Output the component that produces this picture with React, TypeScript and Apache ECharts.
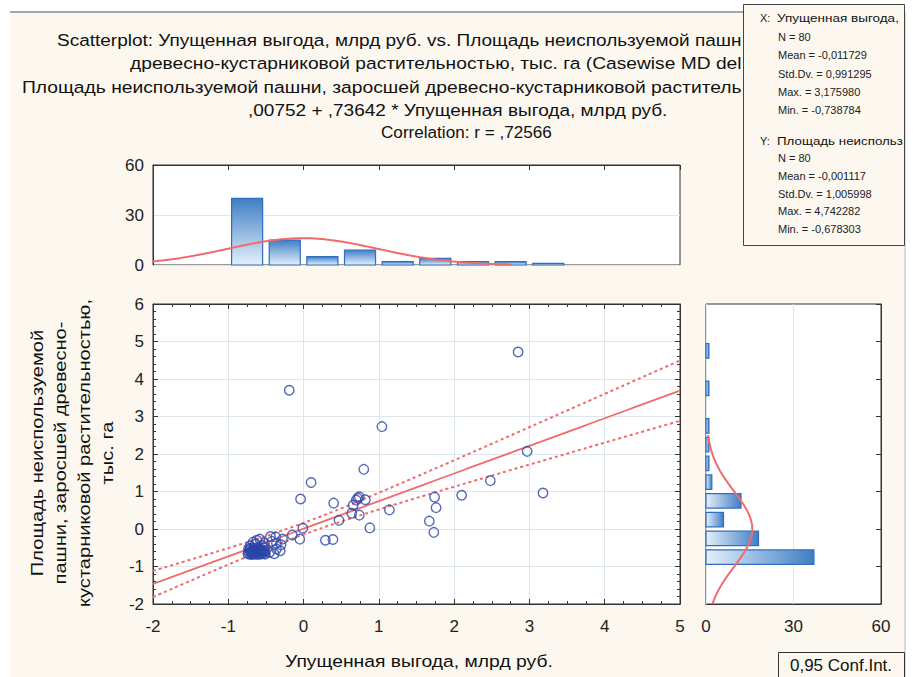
import React, { useEffect, useRef } from "react";
import * as echarts from "echarts";

// ---- Data ----
const xValues = [
  // dense cluster
  -0.74, -0.73, -0.72, -0.71, -0.70, -0.69, -0.68, -0.67, -0.66, -0.66, -0.65, -0.64, -0.63, -0.62, -0.61, -0.60, -0.60,
  -0.59, -0.58, -0.57, -0.56, -0.55, -0.54, -0.53, -0.52, -0.52, -0.51, -0.51, -0.73, -0.70, -0.62, -0.57, -0.69,
  -0.39, -0.31, -0.45, -0.36,
  -0.71, -0.64, -0.58, -0.67, -0.55, -0.62, -0.52,
  -0.44, -0.37, -0.30, -0.28, -0.36, -0.42,
  // remaining points
  -0.19, 1.04, 0.80, 0.10, -0.04, 0.40, 0.74, 0.70, 0.82, 0.66, 0.64, 0.74, 0.47, 0.88, 1.14, 1.74, 1.76, 1.67, 1.73,
  -0.01, -0.15, -0.05, 0.29, 0.39, 2.85, 2.97, 2.48, 2.10, 3.18, 0.72,
];
const yValues = [
  -0.66, -0.60, -0.67, -0.55, -0.63, -0.68, -0.58, -0.66, -0.52, -0.61, -0.67, -0.56, -0.64, -0.60, -0.68, -0.53, -0.65,
  -0.58, -0.62, -0.67, -0.55, -0.63, -0.59, -0.66, -0.51, -0.61, -0.57, -0.67, -0.52, -0.51, -0.51, -0.60, -0.62,
  -0.66, -0.58, -0.62, -0.53,
  -0.45, -0.40, -0.27, -0.35, -0.44, -0.30, -0.38,
  -0.20, -0.21, -0.42, -0.27, -0.38, -0.33,
  3.70, 2.73, 1.59, 1.24, 0.80, 0.69, 0.86, 0.77, 0.78, 0.64, 0.42, 0.37, 0.23, 0.03, 0.51, 0.85, 0.57, 0.21, -0.09,
  0.02, -0.16, -0.27, -0.30, -0.28, 4.72, 2.07, 1.29, 0.90, 0.96, 0.82,
];

const binWidth = 0.5;
const xBinStarts = [-1, -0.5, 0, 0.5, 1, 1.5, 2, 2.5, 3];
const xBinCounts = [40, 15, 5, 9, 2, 4, 2, 2, 1];
const yBinStarts = [-1, -0.5, 0, 0.5, 1, 1.5, 2, 2.5, 3.5, 4.5];
const yBinCounts = [37, 18, 6, 12, 2, 1, 1, 1, 1, 1];

// Fitted statistics printed on the chart
const intercept = 0.00752;
const slope = 0.73642;
const nObs = 80;
const xMean = -0.011729;
const xStd = 0.991295;
const yMean = -0.001117;
const yStd = 1.005998;
const rCorr = 0.72566;
const tCrit = 1.9908;

// visible parts of the texts (the statistics box hides the rest)
const titleLines = [
  "Scatterplot: Упущенная выгода, млрд руб. vs. Площадь неиспользуемой пашн",
  "древесно-кустарниковой растительностью, тыс. га (Casewise MD del",
  "Площадь неиспользуемой пашни, заросшей древесно-кустарниковой раститель",
  ",00752 + ,73642 * Упущенная выгода, млрд руб.",
  "Correlation: r = ,72566",
];
const statsXName = "Упущенная выгода,";
const statsYName = "Площадь неиспольз";
const statsX = ["N = 80", "Mean = -0,011729", "Std.Dv. = 0,991295", "Max. = 3,175980", "Min. = -0,738784"];
const statsY = ["N = 80", "Mean = -0,001117", "Std.Dv. = 1,005998", "Max. = 4,742282", "Min. = -0,678303"];
const xName = "Упущенная выгода, млрд руб.";
const yNameLines = ["Площадь неиспользуемой", "пашни, заросшей древесно-", "кустарниковой растительностью,", "тыс. га"];
const confLabel = "0,95 Conf.Int.";

// ---- styles / layout ----
const FONT = "'Liberation Sans', Arial, sans-serif";
const CREAM = "#fcf8ef";
const RED = "#f26b6b";
const BLUE = "#2c45a8";
const GRIDC = "#dce6ef";
const AXC = "#333";

const pdf = (v: number, m: number, s: number) =>
  Math.exp(-0.5 * ((v - m) / s) ** 2) / (s * Math.sqrt(2 * Math.PI));

let ctx: CanvasRenderingContext2D | null = null;
function measure(text: string, font: string) {
  if (!ctx) ctx = document.createElement("canvas").getContext("2d");
  if (!ctx) return text.length * 8;
  ctx.font = font;
  return ctx.measureText(text).width;
}

// text stretched horizontally so that it spans x0..x1 like in the reference
function fitText(text: string, x0: number, x1: number, y: number, size: number, z = 10) {
  const font = `${size}px ${FONT}`;
  const w = measure(text, font);
  return {
    type: "text",
    x: x0,
    y,
    z,
    scaleX: (x1 - x0) / w,
    style: { text, font, fill: "#111", textVerticalAlign: "middle" },
  };
}

function buildOption() {
  const pts = xValues.map((x, i) => [x, yValues[i]]);
  const xHist = xBinStarts.map((s, i) => [s, s + binWidth, xBinCounts[i]]);
  const yHist = yBinStarts.map((s, i) => [s, s + binWidth, yBinCounts[i]]);

  const topCurve: number[][] = [];
  for (let k = 0; k <= 95; k++) {
    const v = -2 + k * 0.05;
    topCurve.push([v, nObs * binWidth * pdf(v, xMean, xStd)]);
  }
  const rightCurve: number[][] = [];
  for (let k = 0; k <= 90; k++) {
    const v = -2 + k * 0.05;
    rightCurve.push([nObs * binWidth * pdf(v, yMean, yStd), v]);
  }
  const sRes = yStd * Math.sqrt(1 - rCorr * rCorr) * Math.sqrt((nObs - 1) / (nObs - 2));
  const sxx = (nObs - 1) * xStd * xStd;
  const fit: number[][] = [];
  const upper: number[][] = [];
  const lower: number[][] = [];
  for (let k = 0; k <= 70; k++) {
    const v = -2 + k * 0.1;
    const yh = intercept + slope * v;
    const se = sRes * Math.sqrt(1 / nObs + (v - xMean) ** 2 / sxx);
    fit.push([v, yh]);
    upper.push([v, yh + tCrit * se]);
    lower.push([v, yh - tCrit * se]);
  }

  const label = { fontFamily: FONT, fontSize: 17, color: "#222" };
  const axLine = { show: true, onZero: false, lineStyle: { color: AXC, width: 1 } };
  const tickIn = { show: true, inside: true, length: 5, lineStyle: { color: AXC } };
  const minor = (n: number) => ({ show: true, splitNumber: n, length: 3, lineStyle: { color: AXC } });
  const split = { show: true, lineStyle: { color: GRIDC, width: 1 } };

  const vGrad = new echarts.graphic.LinearGradient(0, 0, 0, 1, [
    { offset: 0, color: "#3f7ec4" },
    { offset: 1, color: "#e4f0fb" },
  ]);
  const hGrad = new echarts.graphic.LinearGradient(0, 0, 1, 0, [
    { offset: 0, color: "#e4f0fb" },
    { offset: 1, color: "#3f7ec4" },
  ]);

  const titleStart = [57, 130, 22, 248, 381];
  const titleEnd = [742, 742, 742, 668, 552];
  const titleY = [40, 63, 87, 110, 133];
  const titleGraphics = titleLines.map((t, i) => fitText(t, titleStart[i], titleEnd[i], titleY[i], 17));

  const statFont = `11px ${FONT}`;
  const statText = (t: string, x: number, y: number) => ({
    type: "text",
    x,
    y,
    z: 31,
    style: { text: t, font: statFont, fill: "#222", textVerticalAlign: "middle" },
  });

  const stats: any[] = [
    statText("X:", 760, 18),
    fitText(statsXName, 777, 899, 18, 11, 31),
    ...statsX.map((t, i) => statText(t, 778, 37 + i * 18.3)),
    statText("Y:", 760, 141),
    fitText(statsYName, 777, 903, 141, 11, 31),
    ...statsY.map((t, i) => statText(t, 778, 158 + i * 17.8)),
  ];

  const yFont = `17px ${FONT}`;
  const yLongest = Math.max(...yNameLines.map((l) => measure(l, yFont)));

  return {
    animation: false,
    backgroundColor: CREAM,
    grid: [
      { left: 153, top: 165, width: 527, height: 100, show: true, backgroundColor: "#fff", borderColor: AXC, borderWidth: 1 },
      { left: 153, top: 304, width: 527, height: 300, show: true, backgroundColor: "#fff", borderColor: AXC, borderWidth: 1 },
      { left: 706, top: 304, width: 175, height: 300, show: true, backgroundColor: "#fff", borderColor: AXC, borderWidth: 1 },
    ],
    xAxis: [
      { type: "value", gridIndex: 0, min: -2, max: 5, interval: 1, position: "top", axisLine: axLine, axisTick: tickIn, axisLabel: { show: false }, splitLine: { show: false } },
      { type: "value", gridIndex: 1, min: -2, max: 5, interval: 1, position: "bottom", axisLine: axLine, axisTick: tickIn, minorTick: minor(4), axisLabel: { ...label, margin: 14 }, splitLine: split },
      { type: "value", gridIndex: 1, min: -2, max: 5, interval: 1, position: "top", axisLine: axLine, axisTick: tickIn, minorTick: minor(4), axisLabel: { show: false }, splitLine: { show: false } },
      { type: "value", gridIndex: 2, min: 0, max: 60, interval: 30, position: "bottom", axisLine: axLine, axisTick: { show: false }, axisLabel: { ...label, margin: 14 }, splitLine: split },
    ],
    yAxis: [
      { type: "value", gridIndex: 0, min: 0, max: 60, interval: 30, position: "left", axisLine: axLine, axisTick: { show: false }, axisLabel: { ...label, margin: 9 }, splitLine: split },
      { type: "value", gridIndex: 1, min: -2, max: 6, interval: 1, position: "left", axisLine: axLine, axisTick: tickIn, minorTick: minor(5), axisLabel: { ...label, margin: 9 }, splitLine: split },
      { type: "value", gridIndex: 1, min: -2, max: 6, interval: 1, position: "right", axisLine: axLine, axisTick: tickIn, minorTick: minor(5), axisLabel: { show: false }, splitLine: { show: false } },
      { type: "value", gridIndex: 2, min: -2, max: 6, interval: 1, position: "right", axisLine: axLine, axisTick: tickIn, axisLabel: { show: false }, splitLine: { show: false } },
    ],
    series: [
      {
        type: "custom",
        xAxisIndex: 0,
        yAxisIndex: 0,
        data: xHist,
        encode: { x: [0, 1], y: 2 },
        renderItem: (_p: any, api: any) => {
          const a = api.coord([api.value(0), api.value(2)]);
          const b = api.coord([api.value(1), 0]);
          return {
            type: "rect",
            shape: { x: a[0] + 3.3, y: a[1], width: b[0] - a[0] - 6.6, height: b[1] - a[1] },
            style: { fill: vGrad, stroke: "#2f6ec0", lineWidth: 1.2 },
          };
        },
        z: 2,
      },
      {
        type: "line",
        xAxisIndex: 0,
        yAxisIndex: 0,
        data: topCurve,
        showSymbol: false,
        smooth: true,
        lineStyle: { color: RED, width: 2 },
        z: 3,
      },
      {
        type: "custom",
        xAxisIndex: 3,
        yAxisIndex: 3,
        data: yHist,
        encode: { y: [0, 1], x: 2 },
        renderItem: (_p: any, api: any) => {
          const a = api.coord([0, api.value(1)]);
          const b = api.coord([api.value(2), api.value(0)]);
          return {
            type: "rect",
            shape: { x: a[0], y: a[1] + 2.2, width: b[0] - a[0], height: b[1] - a[1] - 4.4 },
            style: { fill: hGrad, stroke: "#2f6ec0", lineWidth: 1.2 },
          };
        },
        z: 2,
      },
      {
        type: "line",
        xAxisIndex: 3,
        yAxisIndex: 3,
        data: rightCurve,
        showSymbol: false,
        smooth: true,
        lineStyle: { color: RED, width: 2 },
        z: 3,
      },
      {
        type: "line",
        xAxisIndex: 1,
        yAxisIndex: 1,
        data: fit,
        showSymbol: false,
        lineStyle: { color: RED, width: 1.8 },
        z: 3,
      },
      {
        type: "line",
        xAxisIndex: 1,
        yAxisIndex: 1,
        data: upper,
        showSymbol: false,
        smooth: true,
        lineStyle: { color: RED, width: 2, type: [3, 3] },
        z: 3,
      },
      {
        type: "line",
        xAxisIndex: 1,
        yAxisIndex: 1,
        data: lower,
        showSymbol: false,
        smooth: true,
        lineStyle: { color: RED, width: 2, type: [3, 3] },
        z: 3,
      },
      {
        type: "scatter",
        xAxisIndex: 1,
        yAxisIndex: 1,
        data: pts,
        symbol: "circle",
        symbolSize: 9.5,
        itemStyle: { color: "rgba(0,0,0,0)", borderColor: BLUE, borderWidth: 1.4 },
        z: 4,
      },
    ],
    graphic: [
      { type: "rect", z: 0, shape: { x: 0, y: 0, width: 913, height: 12 }, style: { fill: "#fff" } },
      { type: "rect", z: 0, shape: { x: 0, y: 0, width: 10, height: 677 }, style: { fill: "#fff" } },
      { type: "rect", z: 0, shape: { x: 905, y: 0, width: 8, height: 677 }, style: { fill: "#fff" } },
      { type: "line", z: 1, shape: { x1: 10, y1: 12, x2: 905, y2: 12 }, style: { stroke: "#8a8a8a", lineWidth: 1.5 } },
      { type: "line", z: 1, shape: { x1: 905, y1: 12, x2: 905, y2: 677 }, style: { stroke: "#b8b8b8", lineWidth: 1 } },
      ...titleGraphics,
      { type: "rect", z: 30, shape: { x: 743.5, y: 4.5, width: 161, height: 241 }, style: { fill: CREAM, stroke: "#444", lineWidth: 1 } },
      ...stats,
      {
        type: "text",
        x: 72,
        y: 453,
        rotation: Math.PI / 2,
        scaleX: 308 / yLongest,
        z: 10,
        style: { text: yNameLines.join("\n"), font: yFont, fill: "#111", textAlign: "center", textVerticalAlign: "middle", lineHeight: 23.3 },
      },
      fitText(xName, 285, 553, 661, 17),
      { type: "rect", z: 30, shape: { x: 778.5, y: 652.5, width: 126, height: 30 }, style: { fill: CREAM, stroke: "#333", lineWidth: 1 } },
      {
        type: "text",
        x: 841,
        y: 665,
        z: 31,
        style: { text: confLabel, font: `17px ${FONT}`, fill: "#111", textAlign: "center", textVerticalAlign: "middle" },
      },
    ],
  };
}

export default function App() {
  const ref = useRef<HTMLDivElement>(null);
  useEffect(() => {
    if (!ref.current) return;
    const chart = echarts.init(ref.current, null, { renderer: "svg" });
    chart.setOption(buildOption() as any);
    return () => chart.dispose();
  }, []);
  return <div ref={ref} style={{ position: "absolute", left: 0, top: 0, width: 913, height: 677 }} />;
}
